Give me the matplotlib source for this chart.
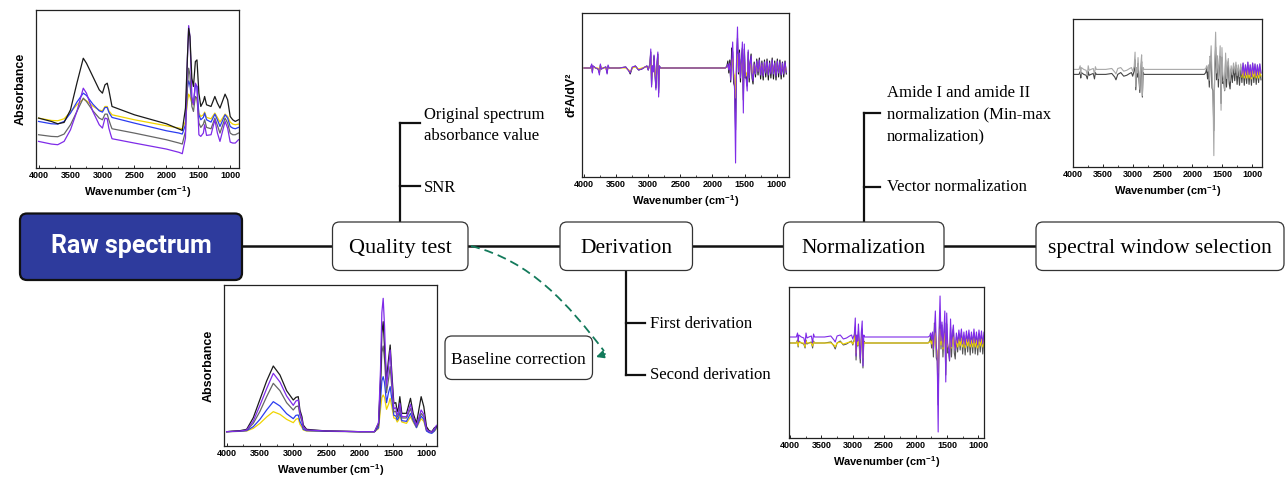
import numpy as np
import matplotlib.pyplot as plt
from matplotlib.patches import FancyBboxPatch, PathPatch
from matplotlib.path import Path
from matplotlib.ticker import MultipleLocator

# raw spectra (top-left inset), arbitrary absorbance units
wn_raw = [4000, 3800, 3700, 3600, 3500, 3400, 3300, 3250, 3150, 3050,
          3000, 2960, 2925, 2900, 2870, 2850, 2500, 2000, 1800, 1750,
          1700, 1670, 1650, 1630, 1600, 1575, 1545, 1520, 1490, 1460,
          1420, 1400, 1370, 1300, 1240, 1200, 1160, 1080, 1040, 1000,
          960, 920, 870]
raw_black = [150, 140, 133, 137, 175, 255, 330, 315, 275, 235,
             225, 250, 255, 235, 205, 185, 160, 133, 117, 113,
             180, 330, 420, 395, 270, 245, 320, 325, 225, 185,
             200, 215, 190, 185, 215, 195, 180, 222, 205, 155,
             145, 140, 145]
raw_violet = [80, 72, 70, 80, 115, 170, 240, 225, 170, 130,
              120, 150, 148, 120, 100, 88, 75, 57, 47, 43,
              90, 330, 428, 395, 215, 190, 255, 245, 100, 95,
              105, 130, 98, 100, 145, 105, 80, 140, 120, 78,
              75, 75, 85]
raw_gray = [100, 95, 94, 102, 130, 170, 210, 200, 172, 150,
            145, 162, 162, 145, 128, 118, 105, 85, 75, 72,
            110, 240, 300, 280, 185, 170, 215, 210, 135, 122,
            132, 145, 122, 118, 150, 128, 105, 150, 135, 105,
            100, 100, 105]
raw_blue = [140, 133, 132, 140, 165, 198, 225, 218, 192, 172,
            168, 182, 182, 168, 158, 152, 135, 112, 105, 102,
            130, 240, 262, 250, 200, 195, 250, 245, 160, 145,
            152, 165, 145, 138, 162, 145, 125, 160, 150, 125,
            120, 118, 122]
raw_yellow = [150, 143, 142, 148, 168, 190, 207, 202, 186, 174,
              172, 185, 185, 172, 165, 160, 145, 127, 120, 118,
              140, 200, 222, 215, 195, 190, 212, 208, 165, 155,
              160, 168, 152, 148, 165, 152, 138, 162, 155, 138,
              132, 130, 132]

# baseline corrected spectra (bottom-left inset)
wn_bc = [4000, 3800, 3700, 3600, 3500, 3400, 3300, 3200, 3100, 3000,
         2960, 2925, 2900, 2870, 2850, 2800, 2500, 2000,
         1780, 1720, 1690, 1670, 1650, 1630, 1600, 1570, 1545, 1520,
         1490, 1460, 1440, 1420, 1400, 1370, 1300, 1240, 1200, 1150,
         1080, 1040, 1000, 960, 920, 880, 850]
bc_black = [43, 46, 50, 85, 140, 195, 240, 213, 166, 138,
            146, 148, 108, 88, 63, 50, 45, 43,
            43, 68, 198, 338, 373, 298, 198, 260, 303, 218,
            128, 130, 103, 115, 148, 98, 98, 143, 98, 68,
            148, 118, 58, 46, 43, 55, 58]
bc_violet = [43, 45, 48, 75, 122, 172, 218, 192, 150, 122,
             135, 138, 100, 80, 58, 48, 45, 43,
             43, 70, 230, 400, 443, 360, 180, 235, 288, 200,
             112, 115, 92, 102, 128, 88, 88, 125, 88, 62,
             108, 95, 50, 44, 42, 52, 62]
bc_gray = [43, 45, 47, 68, 104, 148, 188, 166, 130, 108,
           118, 120, 92, 74, 56, 47, 45, 43,
           43, 62, 180, 280, 300, 260, 160, 200, 238, 175,
           102, 104, 86, 94, 115, 84, 84, 112, 84, 60,
           98, 88, 50, 44, 42, 50, 58]
bc_blue = [43, 44, 46, 58, 80, 108, 133, 120, 97, 82,
           92, 93, 74, 62, 50, 46, 44, 43,
           43, 55, 140, 195, 208, 190, 130, 160, 178, 140,
           92, 90, 78, 84, 100, 76, 74, 98, 76, 55,
           90, 80, 45, 40, 38, 45, 55]
bc_yellow = [43, 44, 45, 53, 68, 87, 103, 95, 80, 70,
             80, 83, 65, 56, 48, 45, 44, 43,
             43, 52, 110, 145, 153, 145, 110, 125, 143, 118,
             84, 82, 72, 77, 90, 72, 68, 88, 72, 55,
             82, 74, 46, 42, 40, 45, 52]

# second derivative spectra (shared by the three derivative insets)
d_wn = [4000, 3900, 3880, 3870, 3860, 3820, 3780, 3760, 3745, 3730,
        3700, 3660, 3640, 3625, 3610, 3580,
        3450, 3350, 3300, 3280, 3250, 3200, 3150, 3100, 3050, 3020,
        3000, 2975, 2960, 2948, 2935, 2922, 2910, 2895, 2880, 2865,
        2850, 2838, 2825, 2810,
        1800, 1775, 1760, 1745, 1730, 1716, 1700, 1685, 1670, 1655,
        1640, 1625, 1610, 1595, 1579, 1564, 1549, 1534, 1519, 1504,
        1489, 1474, 1459, 1443, 1428, 1413, 1398, 1383, 1368,
        1350, 1330, 1310, 1290, 1270, 1250, 1230, 1210, 1190, 1170,
        1150, 1130, 1110, 1090, 1070, 1050, 1030, 1010, 990, 970,
        950, 930, 910, 890, 870, 850]
d_violet = [0, 0, 4, -5, 2, 0, -1, -7, 4, -1, 0, 1, -6, 3, 0, 0,
            0, 1, -3, -5, 1, 2, -2, -1, 1, 2, -2, 3, 19, -19, 2, -4, 13, -6, -22, 4,
            16, -29, 2, 0,
            0, 1, 4, -2, 5, -12, 6, 26, -8, -22, -95, 8, 41, -4, 15, -10, 6, 26, -45, 24,
            -6, -12, -23, 18, -10, 4, 12, -6, -13,
            4, -6, 7, -4, 8, -7, 5, -8, 6, -5, 7, -7, 5, -6, 8, -6, 5, -8, 7, -5,
            6, -7, 5, -6, 6, -4]
d_black = [0, 0, 3, -4, 2, 0, -1, -5, 3, -1, 0, 1, -5, 2, 0, 0,
           0, 1, -3, -6, 0, 2, -2, -1, 1, 2, -2, 4, 16, -17, 2, -3, 12, -5, -20, 3,
           14, -25, 2, 0,
           0, 2, 7, -5, 8, -14, 20, 16, -15, -18, -62, 5, 30, -6, 18, -14, 8, 20, -32, 19,
           -10, -8, -18, 16, -14, 6, 14, -10, -16,
           6, -9, 9, -7, 10, -11, 7, -12, 8, -9, 9, -12, 7, -10, 10, -11, 7, -12, 9, -9,
           8, -11, 6, -9, 7, -6]
d_yellow = [0, 0, 2, -3, 1, 0, 0, -4, 2, 0, 0, 0, -3, 1, 0, 0,
            0, 0, -2, -4, 0, 1, -1, 0, 1, 1, -1, 2, 10, -10, 1, -2, 7, -3, -12, 2,
            9, -15, 1, 0,
            0, 1, 2, -1, 3, -6, 4, 10, -5, -8, -30, 2, 14, -2, 8, -6, 3, 10, -16, 9,
            -3, -5, -9, 7, -5, 2, 6, -4, -6,
            3, -4, 4, -3, 5, -4, 3, -5, 4, -3, 4, -4, 3, -4, 5, -4, 3, -5, 4, -3,
            4, -4, 3, -4, 3, -2]

BLACK, VIOLET, GRAY, BLUE, YELLOW = '#1a1a1a', '#7f2be8', '#666666', '#2b3cf0', '#f0d400'

plt.rcParams['font.family'] = ['Liberation Sans', 'DejaVu Sans']
plt.rcParams['mathtext.fontset'] = 'custom'
plt.rcParams['mathtext.rm'] = 'Liberation Sans'
plt.rcParams['mathtext.bf'] = 'Liberation Sans:bold'
SERIF = 'Liberation Serif'

W, H = 1285, 484
fig = plt.figure(figsize=(W / 100, H / 100), dpi=100)
ax = fig.add_axes([0, 0, 1, 1])
ax.set_xlim(0, W)
ax.set_ylim(H, 0)
ax.axis('off')


def px_axes(l, t, r, b):
    return fig.add_axes([l / W, 1 - b / H, (r - l) / W, (b - t) / H])


def style_inset(a, left, right, ylabel=None, labelpad=7):
    a.set_xlim(left, right)
    a.set_xticks([4000, 3500, 3000, 2500, 2000, 1500, 1000])
    a.xaxis.set_minor_locator(MultipleLocator(250))
    a.set_yticks([])
    a.tick_params(axis='x', which='major', direction='in', length=2.5, width=0.6,
                  labelsize=6.5, pad=2)
    a.tick_params(axis='x', which='minor', direction='in', length=1.5, width=0.5)
    for lbl in a.get_xticklabels():
        lbl.set_fontweight('bold')
    for s in a.spines.values():
        s.set_linewidth(0.9)
        s.set_color('#222222')
    a.set_xlabel(r'Wavenumber (cm$^{\mathbf{-1}}$)', fontsize=8, fontweight='bold', labelpad=3)
    if ylabel:
        a.set_ylabel(ylabel, fontsize=9, fontweight='bold', labelpad=labelpad)


# --- flow chart ---
def box(x0, y0, x1, y1, text, fs=15.5, base=None):
    ax.add_patch(FancyBboxPatch((x0, y0), x1 - x0, y1 - y0,
                                boxstyle='round,pad=0,rounding_size=7',
                                fc='white', ec='#333333', lw=0.9, zorder=3))
    ax.text((x0 + x1) / 2, base, text, ha='center', va='baseline',
            fontsize=fs, family=SERIF, zorder=4)


ax.plot([242, 1036], [245.5, 245.5], color='#111111', lw=1.8, zorder=1)

ax.add_patch(FancyBboxPatch((20, 213.5), 222, 66.5, boxstyle='round,pad=0,rounding_size=7',
                            fc='#2e3b9d', ec='#111111', lw=1.6, zorder=3))
ax.text(131, 253, 'Raw spectrum', ha='center', va='baseline', color='white',
        fontsize=18, fontweight='bold', family='Roboto', zorder=4)

box(332.5, 222, 468, 270.5, 'Quality test', 16, 253.3)
box(560, 222, 692.5, 270.5, 'Derivation', 15.5, 253.3)
box(783.5, 222, 944, 270.5, 'Normalization', 15.5, 253.3)
box(1036, 222, 1284, 270.5, 'spectral window selection', 15.5, 253.3)
box(445, 336, 592.5, 379.5, 'Baseline correction', 12.5, 364)

blw = 1.6
# quality test branch
ax.plot([399.5, 399.5], [222, 123.3], color='#111111', lw=blw, zorder=1)
ax.plot([399.5, 419.5], [123.3, 123.3], color='#111111', lw=blw)
ax.plot([399.5, 419.5], [186, 186], color='#111111', lw=blw)
ax.text(424, 119.3, 'Original spectrum', fontsize=12, family=SERIF, va='baseline')
ax.text(424, 140, 'absorbance value', fontsize=12, family=SERIF, va='baseline')
ax.text(424, 191.7, 'SNR', fontsize=12, family=SERIF, va='baseline')

# derivation branch
ax.plot([626, 626], [270.5, 374.5], color='#111111', lw=blw, zorder=1)
ax.plot([626, 645], [323.3, 323.3], color='#111111', lw=blw)
ax.plot([626, 645], [374.5, 374.5], color='#111111', lw=blw)
ax.text(650, 328.3, 'First derivation', fontsize=12, family=SERIF, va='baseline')
ax.text(650, 379, 'Second derivation', fontsize=12, family=SERIF, va='baseline')

# normalization branch
ax.plot([863.5, 863.5], [222, 112.7], color='#111111', lw=blw, zorder=1)
ax.plot([863.5, 880], [112.7, 112.7], color='#111111', lw=blw)
ax.plot([863.5, 880], [186.7, 186.7], color='#111111', lw=blw)
ax.text(887, 96.7, 'Amide I and amide II', fontsize=12, family=SERIF, va='baseline')
ax.text(887, 118.3, 'normalization (Min-max', fontsize=12, family=SERIF, va='baseline')
ax.text(887, 140, 'normalization)', fontsize=12, family=SERIF, va='baseline')
ax.text(887, 190.7, 'Vector normalization', fontsize=12, family=SERIF, va='baseline')

# dashed arrow to baseline correction
GREEN = '#137a5b'
curve = Path([(471, 246), (531, 261), (568, 304), (604, 351)],
             [Path.MOVETO, Path.CURVE4, Path.CURVE4, Path.CURVE4])
ax.add_patch(PathPatch(curve, fc='none', ec=GREEN, lw=1.3, ls=(0, (5, 2.8)), zorder=2))
ax.annotate('', xy=(596, 357), xytext=(605, 354),
            arrowprops=dict(arrowstyle='-|>', color=GREEN, lw=1.3, mutation_scale=11,
                            shrinkA=0, shrinkB=0))

# --- inset 1: raw spectra ---
a1 = px_axes(36, 10, 239, 168)
for y, c in [(raw_yellow, YELLOW), (raw_blue, BLUE), (raw_gray, GRAY),
             (raw_violet, VIOLET), (raw_black, BLACK)]:
    a1.plot(wn_raw, y, color=c, lw=0.9)
a1.set_ylim(0, 475)
style_inset(a1, 4040, 862, 'Absorbance')

# --- inset 2: baseline corrected ---
a2 = px_axes(224, 285, 437, 446)
for y, c in [(bc_yellow, YELLOW), (bc_blue, BLUE), (bc_gray, GRAY),
             (bc_black, BLACK), (bc_violet, VIOLET)]:
    a2.plot(wn_bc, y, color=c, lw=0.9)
a2.set_ylim(0, 483)
style_inset(a2, 4040, 842, 'Absorbance')

dw = np.array(d_wn)
dv = np.array(d_violet)
db = np.array(d_black)
dy = np.array(d_yellow)

# --- inset 3: second derivative ---
a3 = px_axes(582, 13, 789, 177)
a3.plot(dw, db, color=BLACK, lw=0.8)
a3.plot(dw, dy, color=YELLOW, lw=0.8)
a3.plot(dw, dv, color=VIOLET, lw=0.8)
a3.set_ylim(-109, 55)
style_inset(a3, 4031, 808, 'd²A/dV²', labelpad=3)

# --- inset 4: normalized (grey) ---
a4 = px_axes(1073, 19, 1262, 167)
a4.plot(dw, db, color='#444444', lw=0.8)
a4.plot(dw, dv + 5.5, color='#a8a8a8', lw=0.8)
sel = dw < 1180
a4.plot(dw[sel], dy[sel], color=YELLOW, lw=0.8)
a4.plot(dw[sel], dv[sel] + 5.5, color=VIOLET, lw=0.8)
a4.set_ylim(-102, 61)
style_inset(a4, 4000, 833)

# --- inset 5: second derivative offset ---
a5 = px_axes(789, 287, 984, 438)
a5.plot(dw, db, color='#555555', lw=0.8)
a5.plot(dw, dy, color=YELLOW, lw=0.8)
a5.plot(dw, dv + 6, color=VIOLET, lw=0.8)
a5.set_ylim(-95, 56)
style_inset(a5, 4016, 910)

fig.savefig('out.png', dpi=100)
